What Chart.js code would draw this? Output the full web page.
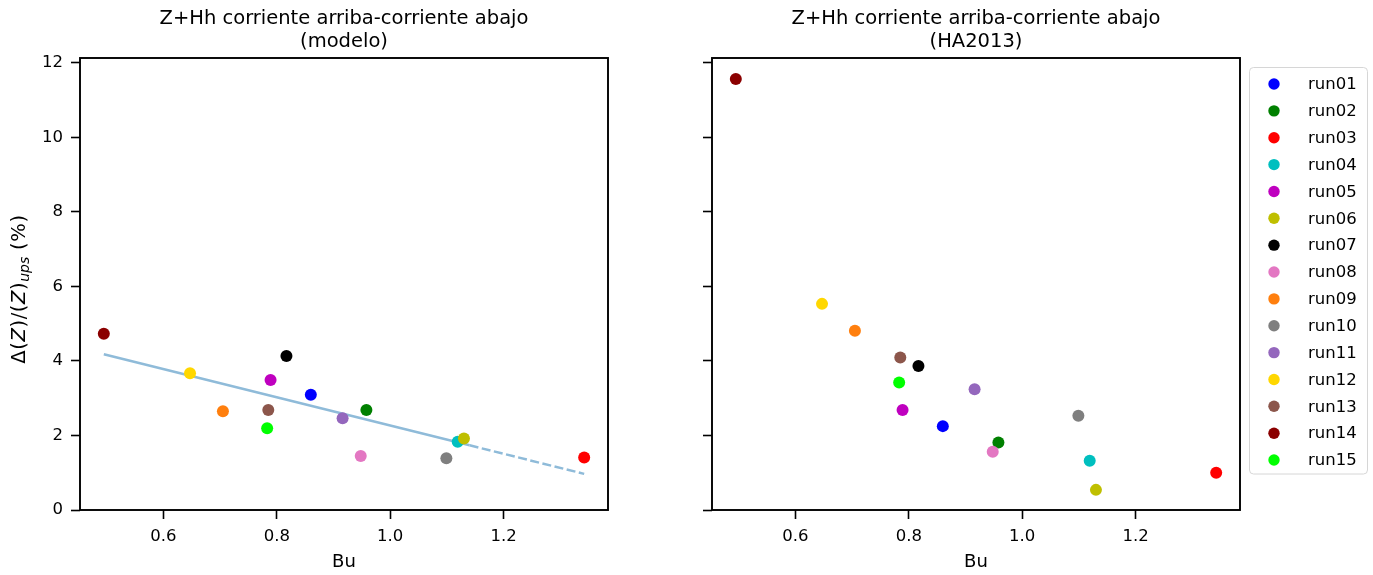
<!DOCTYPE html>
<html>
<head>
<meta charset="utf-8">
<script src="https://cdn.jsdelivr.net/npm/chart.js@4.4.1/dist/chart.umd.min.js"></script>
<style>
  html, body { margin: 0; padding: 0; background: #fff; }
  #wrap { position: relative; width: 1373px; height: 575px; }
  #left { position: absolute; left: 0; top: 0; }
  #right { position: absolute; left: 660px; top: 0; }
</style>
</head>
<body>
<div id="wrap">
  <canvas id="left" width="660" height="575"></canvas>
  <canvas id="right" width="713" height="575"></canvas>
</div>
<script>
// data
const runLabels = ['run01', 'run02', 'run03', 'run04', 'run05', 'run06', 'run07', 'run08',
    'run09', 'run10', 'run11', 'run12', 'run13', 'run14', 'run15'];
const buValues = [0.860, 0.958, 1.342, 1.119, 0.789, 1.130, 0.817, 0.948,
    0.705, 1.099, 0.916, 0.647, 0.785, 0.495, 0.783];
const modelValues = [3.09, 2.68, 1.41, 1.83, 3.49, 1.92, 4.13, 1.45,
    2.65, 1.39, 2.46, 3.67, 2.68, 4.73, 2.19];
const ha2013Values = [2.25, 1.81, 1.00, 1.32, 2.68, 0.54, 3.86, 1.56,
    4.81, 2.53, 3.24, 5.53, 4.09, 11.56, 3.42];
// fitted line on the model panel: solid, then dashed past the last knot
const fitBu = [0.495, 1.14, 1.342];
const fitValues = [4.18, 1.735, 0.97];

const runColors = ['#0000ff', '#008000', '#ff0000', '#00bfbf', '#bf00bf', '#bfbf00', '#000000', '#e377c2',
    '#ff7f0e', '#7f7f7f', '#9467bd', '#ffd700', '#8c564b', '#8b0000', '#00ff00'];

Chart.defaults.font.family = "'DejaVu Sans', sans-serif";
Chart.defaults.color = '#000';

const titleLine = 'Z+Hh corriente arriba-corriente abajo';
const tickFont = { size: 16.5 };

const framePlugin = {
    id: 'frame',
    afterDraw(chart) {
        const { ctx, chartArea: a } = chart;
        ctx.save();
        ctx.strokeStyle = '#000';
        ctx.lineWidth = 1.9;
        ctx.strokeRect(a.left, a.top, a.right - a.left, a.bottom - a.top);
        ctx.restore();
    },
};

const yLabelPlugin = {
    id: 'ylabel',
    afterDraw(chart) {
        const { ctx, chartArea: a } = chart;
        const parts = [
            { t: 'Δ(', it: false }, { t: 'Z', it: true }, { t: ')/(', it: false },
            { t: 'Z', it: true }, { t: ')', it: false }, { t: 'ups', it: true, sub: true },
            { t: ' (%)', it: false },
        ];
        const fam = "'DejaVu Sans', sans-serif";
        const fontOf = (p) => (p.it ? 'italic ' : '') + (p.sub ? '14px ' : '19.5px ') + fam;
        let total = 0;
        parts.forEach((p) => {
            ctx.font = fontOf(p);
            p.w = ctx.measureText(p.t).width + (p.sub ? 0 : 0.6 * p.t.length);
            total += p.w;
        });
        ctx.save();
        ctx.translate(20, (a.top + a.bottom) / 2 + 5);
        ctx.rotate(-Math.PI / 2);
        ctx.textBaseline = 'middle';
        ctx.fillStyle = '#000';
        let x = -total / 2;
        parts.forEach((p) => {
            ctx.font = fontOf(p);
            if (p.sub) {
                ctx.fillText(p.t, x, 5);
            } else {
                let cx = x;
                for (const ch of p.t) {
                    ctx.fillText(ch, cx, 0);
                    cx += ctx.measureText(ch).width + 0.6;
                }
            }
            x += p.w;
        });
        ctx.restore();
    },
};

const legendPlugin = {
    id: 'runLegend',
    afterDraw(chart) {
        const { ctx, chartArea: a } = chart;
        const x0 = a.right + 9.5;
        const y0 = 67.5;
        ctx.save();
        ctx.beginPath();
        ctx.roundRect(x0, y0, 118, 406.5, 4);
        ctx.fillStyle = 'rgba(255,255,255,0.8)';
        ctx.fill();
        ctx.strokeStyle = '#d6d6d6';
        ctx.lineWidth = 1;
        ctx.stroke();
        ctx.font = "16.5px 'DejaVu Sans', sans-serif";
        ctx.textBaseline = 'middle';
        chart.data.datasets.forEach((ds, i) => {
            const y = 84 + i * 26.86;
            ctx.beginPath();
            ctx.arc(x0 + 24.5, y, 5.7, 0, Math.PI * 2);
            ctx.fillStyle = ds.backgroundColor;
            ctx.fill();
            ctx.fillStyle = '#000';
            ctx.fillText(ds.label, x0 + 58.5, y + 1);
        });
        ctx.restore();
    },
};

const makeScales = (yWidth, showYLabels) => ({
    x: {
        type: 'linear',
        position: 'bottom',
        min: 0.453,
        max: 1.384,
        afterFit: (scale) => { scale.height = 65; },
        border: { display: false },
        grid: { drawOnChartArea: false, drawTicks: true, tickLength: 9, tickColor: '#000', tickWidth: 1.6 },
        ticks: {
            stepSize: 0.2,
            includeBounds: false,
            padding: 8,
            font: tickFont,
            color: '#000',
            callback: (v) => v.toFixed(1),
        },
        title: { display: true, text: 'Bu', font: { size: 18 }, color: '#000', padding: { top: 0, bottom: 1.5 } },
    },
    y: {
        type: 'linear',
        min: 0,
        max: 12.126,
        afterFit: (scale) => { scale.width = yWidth; },
        border: { display: false },
        grid: { drawOnChartArea: false, drawTicks: true, tickLength: 9, tickColor: '#000', tickWidth: 1.6 },
        ticks: {
            display: showYLabels,
            stepSize: 2,
            includeBounds: false,
            padding: 8,
            font: tickFont,
            color: '#000',
        },
    },
});

const runDatasets = (values) => runLabels.map((label, i) => ({
    label,
    data: [{ x: buValues[i], y: values[i] }],
    backgroundColor: runColors[i],
    borderWidth: 0,
    pointRadius: 6,
    pointHoverRadius: 6,
    order: runLabels.length - i,
}));

const titleOpts = (sub) => ({
    display: true,
    text: [titleLine, sub],
    fullSize: false,
    color: '#000',
    font: { size: 19.5, weight: 'normal', lineHeight: 1.15 },
    padding: { top: 8, bottom: 5.15 },
});

const fitDataset = {
    label: 'ajuste',
    data: fitBu.map((x, i) => ({ x, y: fitValues[i] })),
    showLine: true,
    borderColor: '#8fbbd9',
    borderWidth: 2.5,
    pointRadius: 0,
    pointHoverRadius: 0,
    order: 100,
    segment: {
        borderDash: (ctx) => (ctx.p0DataIndex >= 1 ? [9, 3.5] : undefined),
    },
};

new Chart(document.getElementById('left').getContext('2d'), {
    type: 'scatter',
    data: { datasets: [fitDataset, ...runDatasets(modelValues)] },
    options: {
        responsive: false,
        animation: false,
        events: [],
        layout: { padding: { left: 0, right: 52, top: 0, bottom: 0 } },
        plugins: {
            legend: { display: false },
            tooltip: { enabled: false },
            title: titleOpts('(modelo)'),
        },
        scales: makeScales(80, true),
    },
    plugins: [framePlugin, yLabelPlugin],
});

new Chart(document.getElementById('right').getContext('2d'), {
    type: 'scatter',
    data: { datasets: runDatasets(ha2013Values) },
    options: {
        responsive: false,
        animation: false,
        events: [],
        layout: { padding: { left: 0, right: 133, top: 0, bottom: 0 } },
        plugins: {
            legend: { display: false },
            tooltip: { enabled: false },
            title: titleOpts('(HA2013)'),
        },
        scales: makeScales(52, false),
    },
    plugins: [framePlugin, legendPlugin],
});
</script>
</body>
</html>
